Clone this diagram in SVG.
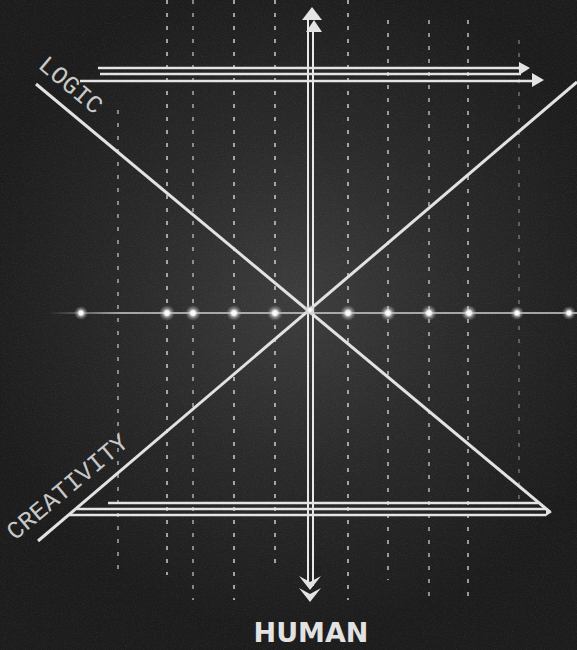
<svg xmlns="http://www.w3.org/2000/svg" width="577" height="650" viewBox="0 0 577 650">
  <defs>
    <radialGradient id="bgGlow" cx="300" cy="300" r="330" gradientUnits="userSpaceOnUse">
      <stop offset="0" stop-color="#3d3d3d"/>
      <stop offset="0.5" stop-color="#2a2a2a"/>
      <stop offset="1" stop-color="#1c1c1c"/>
    </radialGradient>
    <radialGradient id="dotGlow">
      <stop offset="0" stop-color="#ffffff"/>
      <stop offset="0.3" stop-color="#f4f4f4"/>
      <stop offset="0.55" stop-color="#c8c8c8" stop-opacity="0.55"/>
      <stop offset="1" stop-color="#999999" stop-opacity="0"/>
    </radialGradient>
    <linearGradient id="axisFade" x1="48" y1="0" x2="120" y2="0" gradientUnits="userSpaceOnUse">
      <stop offset="0" stop-color="#cccccc" stop-opacity="0"/>
      <stop offset="1" stop-color="#cccccc" stop-opacity="1"/>
    </linearGradient>
    <filter id="grain" x="0" y="0" width="100%" height="100%">
      <feTurbulence type="fractalNoise" baseFrequency="0.9" numOctaves="2" seed="3" result="n"/>
      <feColorMatrix in="n" type="matrix" values="0 0 0 0 1  0 0 0 0 1  0 0 0 0 1  0 0 0 1.2 -0.55"/>
    </filter>
    <style>
      .grid { stroke: #e0e0e0; stroke-width: 1.8; stroke-dasharray: 4 9; fill: none; }
      .diag { stroke: #e2e2e2; stroke-width: 3; fill: none; }
      .vert { stroke: #e8e8e8; stroke-width: 2; fill: none; }
      .hor { stroke: #e4e4e4; stroke-width: 2.4; fill: none; }
      .head { fill: #e4e4e4; }
      .lbl { font-family: "Liberation Mono", "DejaVu Sans Mono", monospace; font-size: 25px; fill: #c8c8c8; }
      .human { font-family: "DejaVu Sans", "Liberation Sans", sans-serif; font-weight: bold; font-size: 27px; fill: #e2e2e2; }
    </style>
  </defs>

  <rect width="577" height="650" fill="url(#bgGlow)"/>
  <rect width="577" height="650" filter="url(#grain)" opacity="0.12"/>

  <!-- dashed vertical grid -->
  <g id="grid">
    <line class="grid" x1="118" y1="110" x2="118" y2="570" opacity="0.6"/>
    <line class="grid" x1="167" y1="0" x2="167" y2="575" opacity="0.75"/>
    <line class="grid" x1="193" y1="0" x2="193" y2="600" opacity="0.6" stroke-dasharray="3 12"/>
    <line class="grid" x1="234" y1="0" x2="234" y2="600" opacity="0.75"/>
    <line class="grid" x1="275" y1="0" x2="275" y2="570" opacity="0.75"/>
    <line class="grid" x1="348" y1="0" x2="348" y2="600" opacity="0.75"/>
    <line class="grid" x1="388" y1="20" x2="388" y2="580" opacity="0.7"/>
    <line class="grid" x1="429" y1="20" x2="429" y2="600" opacity="0.65" stroke-dasharray="3 12"/>
    <line class="grid" x1="468" y1="20" x2="468" y2="600" opacity="0.7"/>
    <line class="grid" x1="519" y1="40" x2="519" y2="500" opacity="0.35" stroke-dasharray="3 16"/>
  </g>

  <!-- connectors -->
  <g id="connectors">
    <!-- horizontal dotted axis -->
    <line x1="48" y1="313" x2="120" y2="313" stroke="url(#axisFade)" stroke-width="1.6"/>
    <line x1="120" y1="313" x2="577" y2="313" stroke="#cfcfcf" stroke-width="1.6"/>

    <!-- diagonals -->
    <line class="diag" x1="36" y1="84" x2="550" y2="512"/>
    <line class="diag" x1="577" y1="82" x2="38" y2="541"/>

    <!-- vertical double axis -->
    <line class="vert" x1="308" y1="19" x2="308" y2="586"/>
    <line class="vert" x1="313" y1="31" x2="313" y2="586"/>
    <polygon class="head" points="312,7 302,20 322,20"/>
    <polygon class="head" points="314,20 306,32 322,32"/>
    <polygon class="head" points="299,576 310,582 321,576 310,590"/>
    <polygon class="head" points="299,588 310,594 321,588 310,602"/>

    <!-- top horizontal arrows -->
    <line class="hor" x1="98" y1="68" x2="521" y2="68"/>
    <line class="hor" x1="100" y1="74" x2="521" y2="74"/>
    <line class="hor" x1="80" y1="81" x2="534" y2="81"/>
    <polygon class="head" points="519,62 530,68 519,75"/>
    <polygon class="head" points="532,73 544,80 532,87"/>

    <!-- bottom horizontal lines -->
    <line class="hor" x1="108" y1="503" x2="538" y2="503"/>
    <line class="hor" x1="77" y1="509" x2="546" y2="509"/>
    <line class="hor" x1="68" y1="515" x2="546" y2="515"/>
    <polygon class="head" points="536,502 552,512 546,516 546,508"/>
  </g>

  <!-- dots -->
  <g id="dots">
    <circle cx="81" cy="313" r="7" fill="url(#dotGlow)"/>
    <circle cx="167" cy="313" r="8" fill="url(#dotGlow)"/>
    <circle cx="193" cy="313" r="8" fill="url(#dotGlow)"/>
    <circle cx="234" cy="313" r="8" fill="url(#dotGlow)"/>
    <circle cx="275" cy="313" r="8" fill="url(#dotGlow)"/>
    <circle cx="348" cy="313" r="8" fill="url(#dotGlow)"/>
    <circle cx="388" cy="313" r="8" fill="url(#dotGlow)"/>
    <circle cx="429" cy="313" r="8" fill="url(#dotGlow)"/>
    <circle cx="469" cy="313" r="8" fill="url(#dotGlow)"/>
    <circle cx="517" cy="313" r="7" fill="url(#dotGlow)"/>
    <circle cx="569" cy="313" r="7" fill="url(#dotGlow)"/>
    <circle cx="310" cy="310" r="6" fill="url(#dotGlow)"/>
  </g>

  <!-- labels -->
  <g id="logic-label">
    <text class="lbl" transform="translate(37,67) rotate(40)">LOGIC</text>
  </g>
  <g id="creativity-label">
    <text class="lbl" transform="translate(15,541) rotate(-40)">CREATIVITY</text>
  </g>
  <g id="human-label">
    <text class="human" x="311" y="642" text-anchor="middle">HUMAN</text>
  </g>
</svg>
